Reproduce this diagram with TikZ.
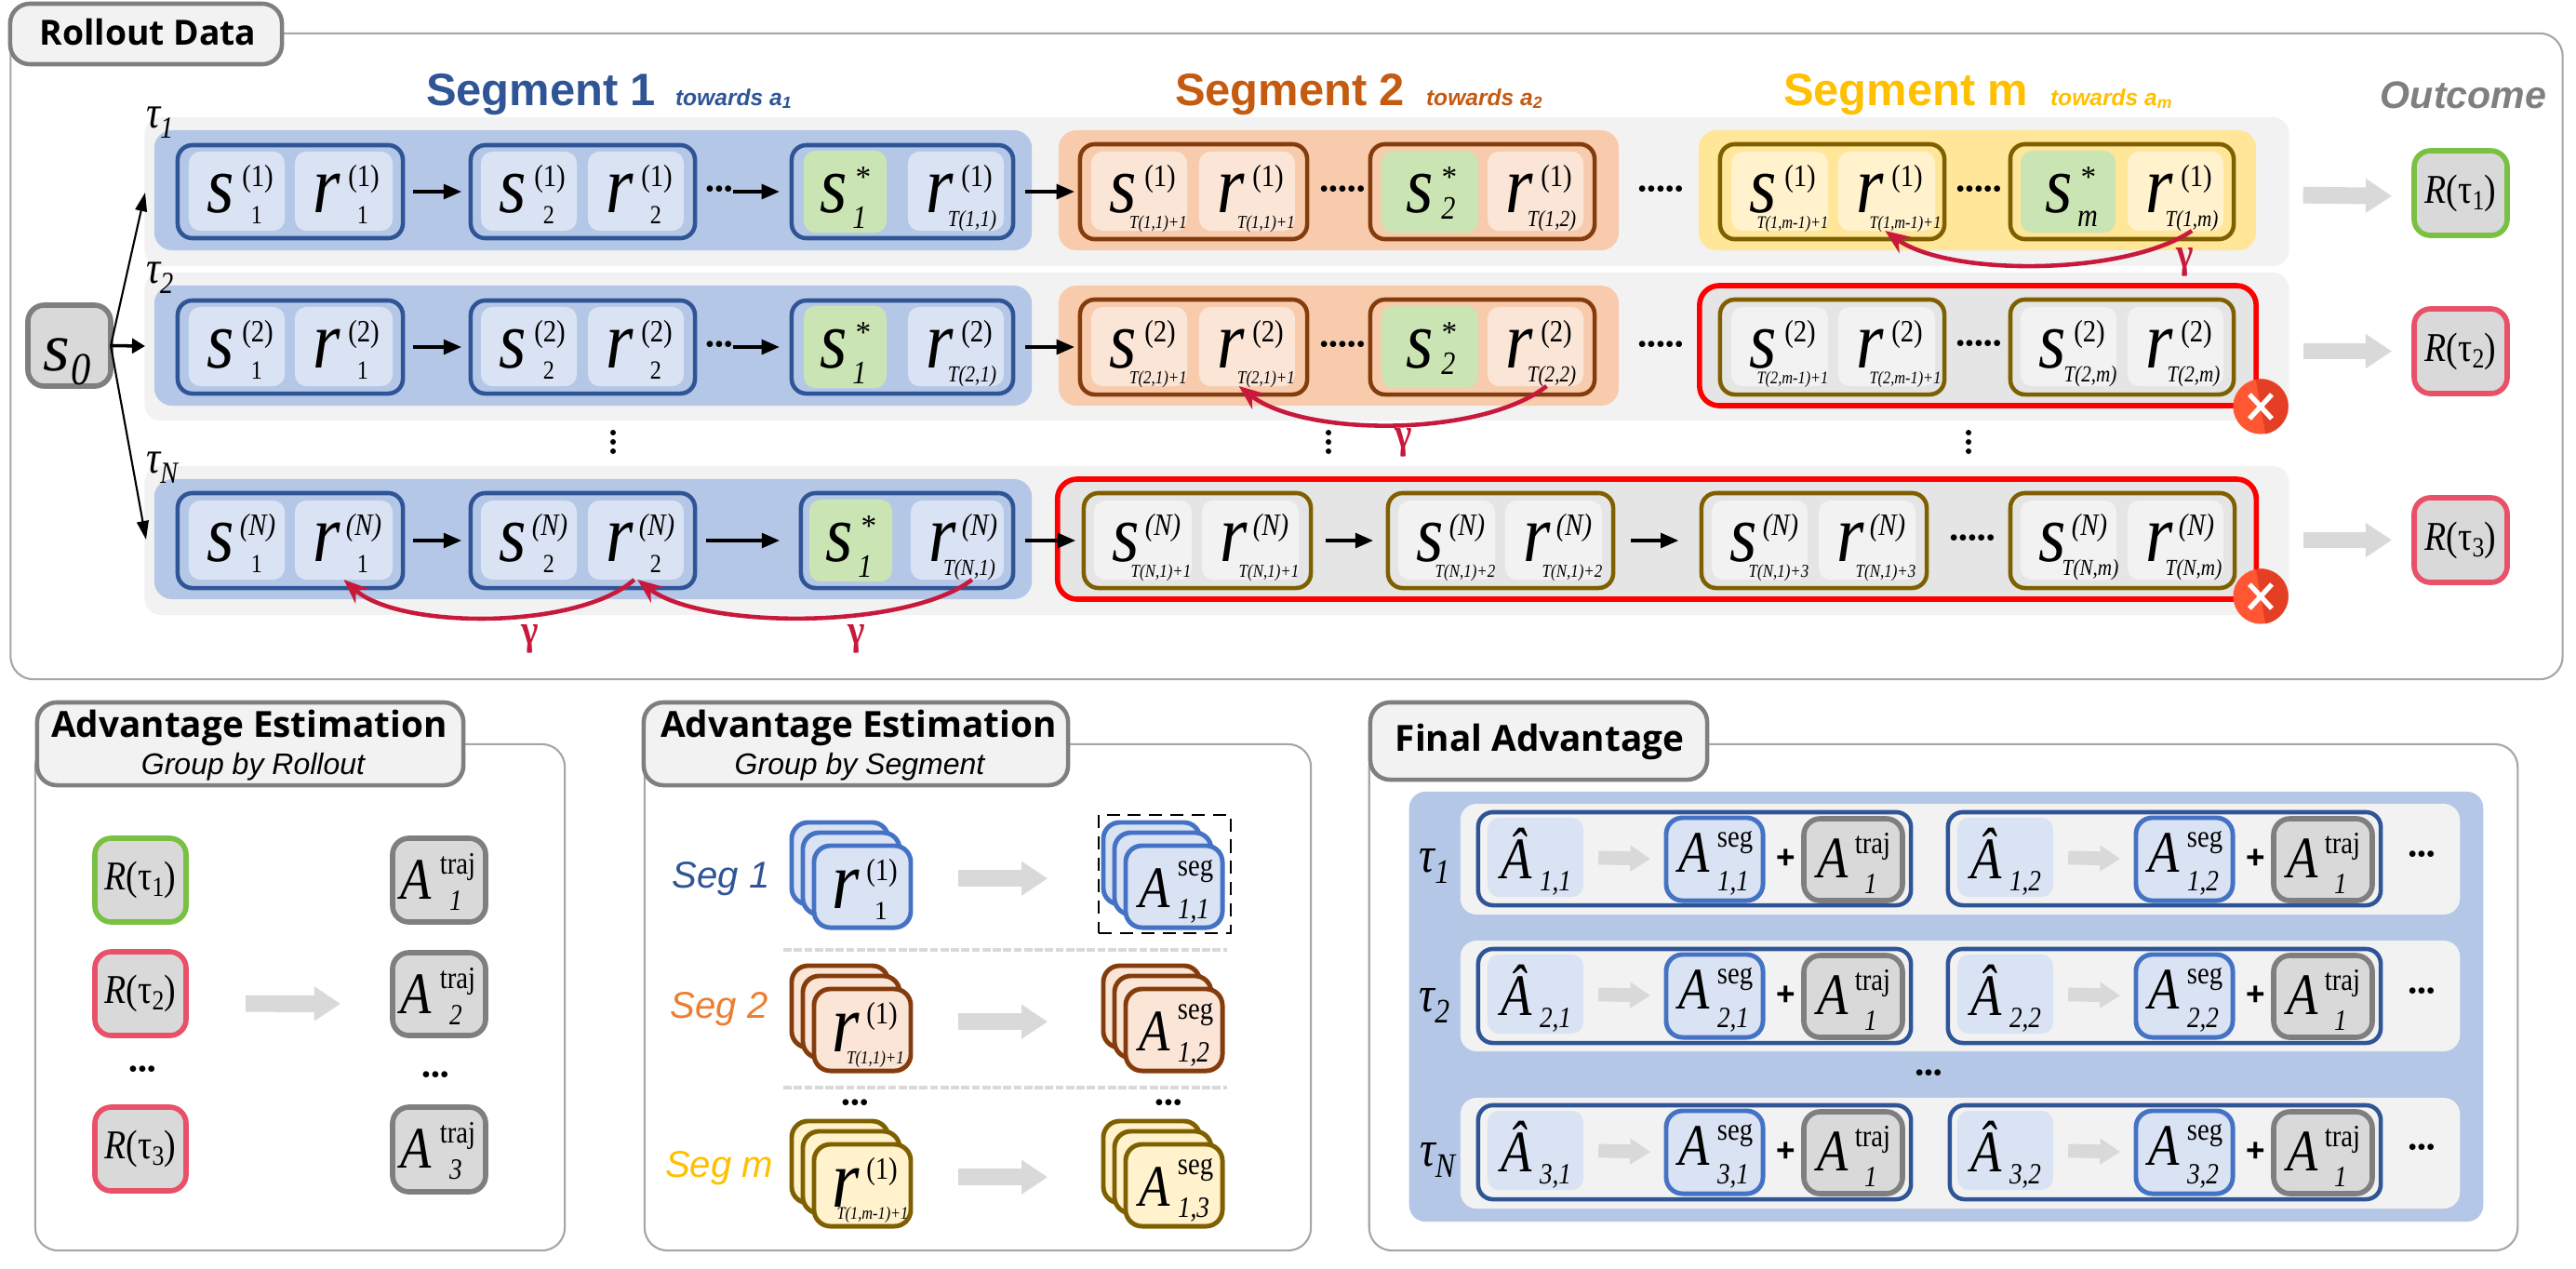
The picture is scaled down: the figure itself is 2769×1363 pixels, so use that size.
\documentclass[tikz,border=0pt]{standalone}
\usepackage{graphicx}
\usepackage{fontspec}
\setmainfont{Liberation Serif}
\setsansfont{Liberation Sans}
\newfontfamily\hdfont{Open Sans}
\usetikzlibrary{arrows.meta}
\definecolor{cBand}{HTML}{F2F2F2}
\definecolor{cBlueBg}{HTML}{B4C7E7}
\definecolor{cOrgBg}{HTML}{F8CBAD}
\definecolor{cYelBg}{HTML}{FFE699}
\definecolor{cBlueTl}{HTML}{DAE3F3}
\definecolor{cOrgTl}{HTML}{FBE5D6}
\definecolor{cYelTl}{HTML}{FFF2CC}
\definecolor{cGreen}{HTML}{CAE5B3}
\definecolor{cDBlue}{HTML}{2F5597}
\definecolor{cMBlue}{HTML}{4472C4}
\definecolor{cBrown}{HTML}{843C0C}
\definecolor{cOlive}{HTML}{7F6000}
\definecolor{cOrg}{HTML}{C55A11}
\definecolor{cOrgL}{HTML}{ED7D31}
\definecolor{cGold}{HTML}{FFC000}
\definecolor{cGrey}{HTML}{7F7F7F}
\definecolor{cFill}{HTML}{D9D9D9}
\definecolor{cGam}{HTML}{C8193C}
\definecolor{cRG}{HTML}{7AC043}
\definecolor{cRR}{HTML}{E85168}
\newcommand\nr[1]{\scalebox{.86}[1]{#1}}
\tikzset{
 x=0.01cm,y=-0.01cm,
 every node/.style={inner sep=0pt,outer sep=0pt},
 band/.style={fill=cBand,rounded corners=5pt},
 bgB/.style={fill=cBlueBg,rounded corners=5.5pt},
 bgO/.style={fill=cOrgBg,rounded corners=5.5pt},
 bgY/.style={fill=cYelBg,rounded corners=5.5pt},
 redbox/.style={draw=red,fill=black!10,line width=1.6pt,rounded corners=6pt},
 boxB/.style={draw=cDBlue,line width=1.3pt,rounded corners=4.5pt},
 boxO/.style={draw=cBrown,line width=1.3pt,rounded corners=4.5pt},
 boxY/.style={draw=cOlive,line width=1.3pt,rounded corners=4.5pt},
 tlB/.style={fill=cBlueTl,rounded corners=3.5pt},
 tlO/.style={fill=cOrgTl,rounded corners=3.5pt},
 tlY/.style={fill=cYelTl,rounded corners=3.5pt},
 tlG/.style={fill=cBand,rounded corners=3.5pt},
 tlS/.style={fill=cGreen,rounded corners=3.5pt},
 lett/.style={anchor=base west,font=\fontsize{25pt}{26pt}\selectfont\itshape},
 supn/.style={anchor=base,font=\fontsize{9.5pt}{10pt}\selectfont},
 frame/.style={draw=black!35,line width=0.6pt,rounded corners=7pt},
 title/.style={draw=cGrey,fill=cBand,line width=1.3pt,rounded corners=6pt},
 rbx/.style={fill=cFill,line width=1.6pt,rounded corners=5pt},
 rG/.style={rbx,draw=cRG},
 rR/.style={rbx,draw=cRR},
 aT/.style={rbx,draw=cGrey},
 aS/.style={fill=cBlueTl,draw=cMBlue,line width=1.4pt,rounded corners=5pt},
 stB/.style={fill=cBlueTl,draw=cMBlue,line width=1.4pt,rounded corners=5pt},
 stO/.style={fill=cOrgTl,draw=cBrown,line width=1.4pt,rounded corners=5pt},
 stY/.style={fill=cYelTl,draw=cOlive,line width=1.4pt,rounded corners=5pt},
 blk/.style={draw=black,line width=1pt,-{Triangle[length=5.5pt,width=4.5pt]}},
 thin arrow/.style={draw=black,line width=0.6pt,-{Triangle[length=5.7pt,width=3.6pt]}},
 garrow/.style={draw=cFill,line width=5.1pt,-{Triangle[length=8pt,width=10pt]}},
 sgarrow/.style={draw=cFill,line width=4.2pt,-{Triangle[length=6.2pt,width=7.6pt]}},
 gam/.style={draw=cGam,line width=1.3pt,-{Stealth[length=7.5pt,width=6pt]}},
 gaml/.style={text=cGam,font=\fontsize{13pt}{13pt}\selectfont\bfseries},
 dotsn/.style={font=\fontsize{8pt}{8pt}\selectfont},
 sym/.style={anchor=base west,font=\fontsize{18pt}{19pt}\selectfont\itshape},
 symu/.style={font=\fontsize{9.5pt}{10pt}\selectfont},
 symd/.style={font=\fontsize{9pt}{10pt}\selectfont\itshape},
 tauf/.style={anchor=base west,font=\fontsize{14pt}{14pt}\selectfont\itshape},
 tauF/.style={font=\fontsize{15.5pt}{16pt}\selectfont\itshape},
 Rtxt/.style={font=\fontsize{12.5pt}{13pt}\selectfont},
}
\newcommand\Bx[6]{\node[#2,minimum width={((#5)-(#3))*0.2845pt},minimum height={((#6)-(#4))*0.2845pt}] (#1) at ({((#3)+(#5))/2},{((#4)+(#6))/2}) {};}
\newcommand\kA{\def\subX{73}\def\subY{77}\def\subF{\fontsize{8pt}{8pt}\selectfont}}
\newcommand\kB{\def\subX{69}\def\subY{80}\def\subF{\fontsize{7pt}{7pt}\selectfont\itshape}}
\newcommand\kC{\def\subX{72}\def\subY{82}\def\subF{\fontsize{5.6pt}{6pt}\selectfont\itshape}}
\newcommand\kD{\def\subX{66}\def\subY{82}\def\subF{\fontsize{5.4pt}{6pt}\selectfont\itshape}}
% name style letter sup sub x0 x1 y0
\newcommand\Tl[8]{%
 \Bx{#1}{#2}{#6}{#8}{#7}{(#8)+85}
 \node[lett] (#1l) at ({(#6)+19},{(#8)+65}) {\nr{#3}};
 \node[supn] (#1u) at ({(#6)+74},{(#8)+37}) {\nr{#4}};
 \node[anchor=base] (#1d) at ({(#6)+\subX},{(#8)+\subY}) {\subF\nr{#5}};
}
% name sub off x0 x1 y0 subbaseline
\newcommand\St[7]{%
 \Bx{#1}{tlS}{#4}{(#6)-1}{#5}{(#6)+87}
 \node[lett] (#1l) at ({(#4)+17+#3},{(#6)+65}) {\nr{s}};
 \node[supn] (#1u) at ({(#4)+64+#3},{(#6)+38}) {*};
 \node[anchor=base,font=\fontsize{10pt}{10pt}\selectfont\itshape] (#1d) at ({(#4)+60+#3+#3/3},{(#6)+#7}) {\nr{#2}};
}
% id sup dy Ti
\newcommand\SegOne[4]{%
 \Bx{#1bg}{bgB}{166}{140+#3}{1109}{269+#3}
 \Bx{#1a}{boxB}{191}{156+#3}{433}{256+#3}
 \Bx{#1b}{boxB}{506}{156+#3}{747}{256+#3}
 \Bx{#1c}{boxB}{851}{156+#3}{1089}{256+#3}
 \kA
 \Tl{#1s1}{tlB}{s}{#2}{1}{203}{306}{163+#3}
 \Tl{#1r1}{tlB}{r}{#2}{1}{317}{422}{163+#3}
 \Tl{#1s2}{tlB}{s}{#2}{2}{517}{620}{163+#3}
 \Tl{#1r2}{tlB}{r}{#2}{2}{632}{735}{163+#3}
 \St{#1s3}{1}{0}{864}{953}{163+#3}{82}
 \kB\Tl{#1r3}{tlB}{r}{#2}{T(#4,1)}{976}{1079}{163+#3}
 \draw[blk,shorten <=3pt,shorten >=2.8pt] (#1a.east) -- (#1b.west);
 \node[dotsn] (#1dt) at (773,{206+#3}) {•••};
 \draw[blk,shorten >=3.7pt] (#1dt.east) -- (#1c.west |- #1dt.east);
}
% id sup dy i
\newcommand\SegTwo[4]{%
 \Bx{#1obg}{bgO}{1138}{140+#3}{1740}{269+#3}
 \Bx{#1oa}{boxO}{1161}{155+#3}{1405}{257+#3}
 \Bx{#1ob}{boxO}{1473}{155+#3}{1714}{257+#3}
 \kC
 \Tl{#1os}{tlO}{s}{#2}{T(#4,1)+1}{1173}{1276}{163+#3}
 \Tl{#1or}{tlO}{r}{#2}{T(#4,1)+1}{1289}{1392}{163+#3}
 \St{#1os2}{2}{9}{1485}{1589}{163+#3}{72}
 \kB\Tl{#1or2}{tlO}{r}{#2}{T(#4,2)}{1599}{1702}{163+#3}
 \draw[blk,shorten <=3.7pt,shorten >=1.7pt] (#1c.east) -- (#1oa.west);
 \node[dotsn] (#1od) at (1443,{206+#3}) {•••••};
 \node[dotsn] (#1oe) at (1785,{206+#3}) {•••••};
}
\newcommand\Stk[4]{%
 \Bx{#1k}{#2}{#3}{#4}{(#3)+104}{(#4)+88}
 \Bx{#1m}{#2}{(#3)+12}{(#4)+11}{(#3)+116}{(#4)+99}
 \Bx{#1f}{#2}{(#3)+24}{(#4)+25}{(#3)+128}{(#4)+113}
}
% name sup sub x y ax ay sx sy
\newcommand\Asym[9]{%
 \node[sym] (#1a) at ({(#4)+(#6)},{(#5)+(#7)}) {\nr{A}};
 \node[symu] (#1u) at ({(#4)+(#8)},{(#5)+(#9)}) {\nr{#2}};
 \node[symd] (#1d) at ({(#4)+(#8)-2},{(#5)+70}) {\nr{#3}};
}
\newcommand\Rtau[1]{\nr{{\itshape R}(τ\raisebox{-2pt}{\fontsize{8.5pt}{9pt}\selectfont #1})}}
\newcommand\Bad[3]{%
 \node[circle,fill=red!65!orange!80!white,minimum size=16.8pt] (#1) at (#2,#3) {};
 \fill[red!75!black!85!orange!90!white,opacity=.55] ([shift={(#2,#3)}]80:30) arc[start angle=80,end angle=-100,radius=30];
 \draw[white,line width=1.5pt] ({#2-12},{#3-13}) -- ({#2+12},{#3+13}) ({#2-12},{#3+13}) -- ({#2+12},{#3-13});
}
% cell: id  label  dx dy
\newcommand\FCell[4]{%
 \Bx{#1t}{tlB}{1599+#3}{879+#4}{1702+#3}{964+#4}
 \node[sym] (#1h) at ({1613+#3},{944+#4}) {\nr{Â}};
 \node[symd] (#1hd) at ({1672+#3},{949+#4}) {\nr{#2}};
 \Bx{#1s}{aS}{1791+#3}{879+#4}{1895+#3}{968+#4}
 \Asym{#1as}{seg}{#2}{1791+#3}{879+#4}{13}{58}{74}{27}
 \node[font=\fontsize{10pt}{10pt}\selectfont\bfseries\sffamily] (#1p) at ({1920+#3},{923+#4}) {+};
 \Bx{#1j}{aT}{1939+#3}{880+#4}{2045+#3}{968+#4}
 \Asym{#1at}{traj}{1}{1939+#3}{880+#4}{14}{63}{74}{30}
 \draw[sgarrow,shorten <=4.6pt,shorten >=4.8pt] (#1t.east) -- (#1s.west);
 \node[dotsn] (#1dd) at ({2603-505+#3+505},{921+#4}) {•••};
}
\begin{document}
\begin{tikzpicture}
\useasboundingbox (0,0) rectangle (2769,1363);
\fill[white] (0,0) rectangle (2769,1363);
% ---------- Rollout frame
\Bx{rollF}{frame}{12}{36}{2754}{730}
\Bx{rollT}{title}{11}{4}{303}{69}
\node[font=\fontsize{10.6pt}{12pt}\selectfont\hdfont\bfseries] (rollL) at (159,35) {Rollout Data};
% headings
\node[anchor=base west,text=cDBlue,font=\fontsize{13.9pt}{14pt}\selectfont\sffamily\bfseries] (h1) at (458,113) {Segment 1};
\node[anchor=base west,text=cDBlue,font=\fontsize{7pt}{8pt}\selectfont\sffamily\bfseries\itshape] (h1b) at (726,113) {towards a\raisebox{-1pt}{\fontsize{5pt}{5pt}\selectfont 1}};
\node[anchor=base west,text=cOrg,font=\fontsize{13.9pt}{14pt}\selectfont\sffamily\bfseries] (h2) at (1263,113) {Segment 2};
\node[anchor=base west,text=cOrg,font=\fontsize{7pt}{8pt}\selectfont\sffamily\bfseries\itshape] (h2b) at (1533,113) {towards a\raisebox{-1pt}{\fontsize{5pt}{5pt}\selectfont 2}};
\node[anchor=base west,text=cGold,font=\fontsize{13.9pt}{14pt}\selectfont\sffamily\bfseries] (h3) at (1917,113) {Segment m};
\node[anchor=base west,text=cGold,font=\fontsize{7pt}{8pt}\selectfont\sffamily\bfseries\itshape] (h3b) at (2204,113) {towards a\raisebox{-1pt}{\fontsize{5pt}{5pt}\selectfont m}};
\node[text=cGrey,font=\fontsize{11.7pt}{12pt}\selectfont\sffamily\bfseries\itshape] (h4) at (2648,102) {Outcome};
% bands
\Bx{band1}{band}{156}{126}{2460}{286}
\Bx{band2}{band}{156}{293}{2460}{452}
\Bx{band3}{band}{156}{501}{2460}{661}
% s0
\Bx{s0}{aT}{30}{328}{119}{415}
\node[anchor=base west,font=\fontsize{21pt}{22pt}\selectfont\itshape] (s0l) at (46,398) {s};
\node[anchor=base west,font=\fontsize{14pt}{15pt}\selectfont\itshape] (s0d) at (77,413) {\nr{0}};
\coordinate (c1) at (156,207);
\coordinate (c2) at (156,372);
\coordinate (c3) at (157,580);
\draw[thin arrow] (s0.east) -- (c1);
\draw[thin arrow,line width=1pt,-{Triangle[length=4pt,width=4.5pt]}] (s0.east) -- (c2);
\draw[thin arrow] (s0.east) -- (c3);
% Row 1
\SegOne{A}{(1)}{0}{1}
\SegTwo{A}{(1)}{0}{1}
\Bx{Aybg}{bgY}{1826}{140}{2425}{269}
\Bx{Aya}{boxY}{1849}{155}{2090}{257}
\Bx{Ayb}{boxY}{2161}{155}{2401}{257}
\kD
\Tl{Ays}{tlY}{s}{(1)}{T(1,m-1)+1}{1861}{1965}{163}
\def\subX{72}
\Tl{Ayr}{tlY}{r}{(1)}{T(1,m-1)+1}{1976}{2080}{163}
\St{Ays2}{m}{9}{2172}{2274}{163}{80}
\kB\Tl{Ayr2}{tlY}{r}{(1)}{T(1,m)}{2287}{2390}{163}
\node[dotsn] (Ayd) at (2127,206) {•••••};
% Row 2
\SegOne{B}{(2)}{167}{2}
\SegTwo{B}{(2)}{167}{2}
\Bx{Bred}{redbox}{1827}{307}{2425}{436}
\Bx{Bya}{boxY}{1849}{322}{2090}{424}
\Bx{Byb}{boxY}{2161}{322}{2401}{424}
\kD
\Tl{Bys}{tlG}{s}{(2)}{T(2,m-1)+1}{1861}{1965}{330}
\def\subX{72}
\Tl{Byr}{tlG}{r}{(2)}{T(2,m-1)+1}{1976}{2080}{330}
\kB\def\subX{75}
\Tl{Bys2}{tlG}{s}{(2)}{T(2,m)}{2172}{2275}{330}
\def\subX{71}
\Tl{Byr2}{tlG}{r}{(2)}{T(2,m)}{2287}{2390}{330}
\node[dotsn] (Byd) at (2127,372) {•••••};
\Bad{BX}{2430}{437}
% Row N
\Bx{Cbg}{bgB}{166}{515}{1109}{644}
\Bx{Ca}{boxB}{191}{530}{433}{632}
\Bx{Cb}{boxB}{506}{530}{747}{632}
\Bx{Cc}{boxB}{861}{530}{1089}{632}
\kA
\Tl{Cs1}{tlB}{s}{\itshape(N)}{1}{203}{306}{538}
\Tl{Cr1}{tlB}{r}{\itshape(N)}{1}{317}{422}{538}
\Tl{Cs2}{tlB}{s}{\itshape(N)}{2}{517}{620}{538}
\Tl{Cr2}{tlB}{r}{\itshape(N)}{2}{632}{735}{538}
\St{Cs3}{1}{0}{870}{959}{538}{82}
\kB\def\subX{63}\Tl{Cr3}{tlB}{r}{\itshape(N)}{T(N,1)}{979}{1079}{538}
\draw[blk,shorten <=3pt,shorten >=2.8pt] (Ca.east) -- (Cb.west);
\draw[blk,shorten <=3.3pt,shorten >=6.5pt] (Cb.east) -- (Cc.west);
\Bx{Cred}{redbox}{1137}{515}{2425}{644}
\Bx{Cya}{boxY}{1165}{530}{1409}{632}
\Bx{Cyb}{boxY}{1492}{530}{1734}{632}
\Bx{Cyc}{boxY}{1829}{530}{2071}{632}
\Bx{Cyd}{boxY}{2161}{530}{2402}{632}
\kC
\Tl{Cy1}{tlG}{s}{\itshape(N)}{T(N,1)+1}{1176}{1281}{538}
\Tl{Cy2}{tlG}{r}{\itshape(N)}{T(N,1)+1}{1292}{1396}{538}
\Tl{Cy3}{tlG}{s}{\itshape(N)}{T(N,1)+2}{1503}{1607}{538}
\Tl{Cy4}{tlG}{r}{\itshape(N)}{T(N,1)+2}{1618}{1722}{538}
\Tl{Cy5}{tlG}{s}{\itshape(N)}{T(N,1)+3}{1840}{1943}{538}
\Tl{Cy6}{tlG}{r}{\itshape(N)}{T(N,1)+3}{1955}{2059}{538}
\kB\def\subX{75}
\Tl{Cy7}{tlG}{s}{\itshape(N)}{T(N,m)}{2172}{2275}{538}
\def\subX{71}
\Tl{Cy8}{tlG}{r}{\itshape(N)}{T(N,m)}{2287}{2390}{538}
\draw[blk,shorten <=3.7pt,shorten >=2.5pt] (Cc.east) -- (Cya.west);
\draw[blk,shorten <=4.5pt,shorten >=4.5pt] (Cya.east) -- (Cyb.west);
\draw[blk,shorten <=5.5pt,shorten >=7pt] (Cyb.east) -- (Cyc.west);
\node[dotsn] (Cyt) at (2120,581) {•••••};
\Bad{CX}{2430}{641}
% taus
\node[tauf] (t1) at (157,137) {\nr{τ}\raisebox{-3.4pt}{\fontsize{9.4pt}{10pt}\selectfont\nr{1}}};
\node[tauf] (t2) at (157,304) {\nr{τ}\raisebox{-3.4pt}{\fontsize{9.4pt}{10pt}\selectfont\nr{2}}};
\node[tauf] (t3) at (157,508) {\nr{τ}\raisebox{-3.4pt}{\fontsize{9.4pt}{10pt}\selectfont\nr{N}}};
% vertical dots
\foreach \n/\vx in {a/659,b/1428,c/2116}{
 \foreach \m/\vy in {1/465,2/475,3/485}{
  \fill[black] (\vx,\vy) circle[radius=3];
 }
}
% gamma curves
\draw[gam] ([xshift=5pt]Ayr2.south) .. controls +(-70,48) and +(70,50) .. ([xshift=-.5pt]Ayr.south);
\node[gaml] (g1) at (2349,282) {\nr{γ}};
\draw[gam] ([xshift=3.4pt]Bor2.south) .. controls +(-70,55) and +(70,55) .. ([xshift=-2.5pt]Bor.south);
\node[gaml] (g2) at (1509,476) {\nr{γ}};
\draw[gam] ([xshift=-.5pt]Cr2.south) .. controls +(-60,54) and +(60,54) .. (Cr1.south);
\draw[gam] ([xshift=4.5pt]Cr3.south) .. controls +(-70,54) and +(70,54) .. ([xshift=.5pt]Cr2.south);
\node[gaml] (g3) at (570,687) {\nr{γ}};
\node[gaml] (g4) at (921,687) {\nr{γ}};
% outcomes
\Bx{R1}{rG}{2595}{162}{2695}{253}
\Bx{R2}{rR}{2595}{332}{2695}{423}
\Bx{R3}{rR}{2595}{535}{2695}{626}
\node[Rtxt] (R1t) at (R1) {\Rtau{1}};
\node[Rtxt] (R2t) at (R2) {\Rtau{2}};
\node[Rtxt] (R3t) at (R3) {\Rtau{3}};
\draw[garrow,shorten <=4.3pt,shorten >=6.8pt] ([yshift=-1pt]band1.east) -- ([yshift=-1pt]R1.west);
\draw[garrow,shorten <=4.3pt,shorten >=6.8pt] (band2.east |- R2.west) -- (R2.west);
\draw[garrow,shorten <=4.3pt,shorten >=6.8pt] (band3.east |- R3.west) -- (R3.west);
% ---------- Panel 1
\Bx{p1F}{frame}{38}{800}{607}{1344}
\Bx{p1T}{title}{40}{755}{498}{844}
\node[font=\fontsize{11pt}{12pt}\selectfont\hdfont\bfseries] (p1L) at (268,782) {Advantage Estimation};
\node[font=\fontsize{9.1pt}{10pt}\selectfont\itshape\sffamily] (p1S) at (272,824) {Group by Rollout};
\Bx{pR1}{rG}{102}{901}{200}{991}
\Bx{pR2}{rR}{102}{1023}{200}{1113}
\Bx{pR3}{rR}{102}{1190}{200}{1280}
\node[Rtxt] (pR1t) at (pR1) {\Rtau{1}};
\node[Rtxt] (pR2t) at (pR2) {\Rtau{2}};
\node[Rtxt] (pR3t) at (pR3) {\Rtau{3}};
\Bx{pA1}{aT}{422}{901}{522}{991}
\Bx{pA2}{aT}{422}{1024}{522}{1113}
\Bx{pA3}{aT}{422}{1190}{522}{1281}
\Asym{pA1s}{traj}{1}{419}{898}{11}{68}{73}{34}
\Asym{pA2s}{traj}{2}{419}{1021}{11}{68}{73}{34}
\Asym{pA3s}{traj}{3}{419}{1187}{11}{68}{73}{34}
\node[dotsn] (pd1) at (153,1152) {•••};
\node[dotsn] (pd2) at (468,1158) {•••};
\draw[garrow,shorten <=18.2pt,shorten >=15.9pt] ([yshift=-3pt]pR2.east) -- ([yshift=-3pt]pA2.west);
% ---------- Panel 2
\Bx{p2F}{frame}{693}{800}{1409}{1344}
\Bx{p2T}{title}{692}{755}{1148}{844}
\node[font=\fontsize{11pt}{12pt}\selectfont\hdfont\bfseries] (p2L) at (923,782) {Advantage Estimation};
\node[font=\fontsize{9.1pt}{10pt}\selectfont\itshape\sffamily] (p2S) at (924,824) {Group by Segment};
\node[text=cDBlue,font=\fontsize{11.4pt}{12pt}\selectfont\itshape\sffamily] (sg1) at (775,945) {Seg 1};
\node[text=cOrgL,font=\fontsize{11.4pt}{12pt}\selectfont\itshape\sffamily] (sg2) at (773,1085) {Seg 2};
\node[text=cGold,font=\fontsize{11.4pt}{12pt}\selectfont\itshape\sffamily] (sg3) at (773,1256) {Seg m};
\Stk{L1}{stB}{851}{884}
\Stk{L2}{stO}{851}{1038}
\Stk{L3}{stY}{851}{1205}
\Stk{M1}{stB}{1186}{884}
\Stk{M2}{stO}{1186}{1038}
\Stk{M3}{stY}{1186}{1205}
\node[lett] (L1r) at (894,976) {\nr{r}};
\node[supn] (L1u) at (948,946) {\nr{(1)}};
\node[anchor=base,font=\fontsize{8pt}{8pt}\selectfont] (L1d) at (947,988) {1};
\node[lett] (L2r) at (894,1130) {\nr{r}};
\node[supn] (L2u) at (948,1100) {\nr{(1)}};
\node[anchor=base,font=\fontsize{5.6pt}{6pt}\selectfont\itshape] (L2d) at (941,1143) {\nr{T(1,1)+1}};
\node[lett] (L3r) at (894,1297) {\nr{r}};
\node[supn] (L3u) at (948,1267) {\nr{(1)}};
\node[anchor=base,font=\fontsize{5.4pt}{6pt}\selectfont\itshape] (L3d) at (938,1310) {\nr{T(1,m-1)+1}};
\Asym{M1s}{seg}{1,1}{1210}{909}{14}{66}{75}{28}
\Asym{M2s}{seg}{1,2}{1210}{1063}{14}{66}{75}{28}
\Asym{M3s}{seg}{1,3}{1210}{1230}{14}{66}{75}{28}
\Bx{dash}{draw=black,line width=0.8pt,dash pattern=on 4pt off 2.5pt}{1181}{876}{1323}{1003}
\draw[cFill,line width=.9pt,dash pattern=on 2.5pt off .7pt] (842,1021) -- (1319,1021);
\draw[cFill,line width=.9pt,dash pattern=on 2.5pt off .7pt] (842,1169) -- (1319,1169);
\node[dotsn] (qd1) at (919,1188) {•••};
\node[dotsn] (qd2) at (1256,1188) {•••};
\draw[garrow,shorten <=14.5pt,shorten >=17pt] ([yshift=2.5pt]L1f.east) -- ([yshift=2.5pt]M1k.west |- L1f.east);
\draw[garrow,shorten <=14.5pt,shorten >=17pt] ([yshift=2.5pt]L2f.east) -- ([yshift=2.5pt]M2k.west |- L2f.east);
\draw[garrow,shorten <=14.5pt,shorten >=17pt] ([yshift=2.5pt]L3f.east) -- ([yshift=2.5pt]M3k.west |- L3f.east);
% ---------- Panel 3
\Bx{p3F}{frame}{1472}{800}{2706}{1344}
\Bx{p3T}{title}{1473}{755}{1835}{838}
\node[font=\fontsize{11pt}{12pt}\selectfont\hdfont\bfseries] (p3L) at (1655,797) {Final Advantage};
\Bx{fbg}{fill=cBlueBg,rounded corners=5pt}{1515}{851}{2669}{1313}
\Bx{fb1}{band}{1570}{864}{2644}{983}
\Bx{fb2}{band}{1570}{1011}{2644}{1130}
\Bx{fb3}{band}{1570}{1180}{2644}{1299}
\Bx{f1a}{boxB}{1589}{873}{2054}{973}
\Bx{f1b}{boxB}{2094}{873}{2559}{973}
\Bx{f2a}{boxB}{1589}{1020}{2054}{1121}
\Bx{f2b}{boxB}{2094}{1020}{2559}{1121}
\Bx{f3a}{boxB}{1589}{1188}{2054}{1289}
\Bx{f3b}{boxB}{2096}{1188}{2559}{1289}
\FCell{e11}{1,1}{0}{0}
\FCell{e12}{1,2}{505}{0}
\FCell{e21}{2,1}{0}{147}
\FCell{e22}{2,2}{505}{147}
\FCell{e31}{3,1}{0}{315}
\FCell{e32}{3,2}{505}{315}
\node[dotsn] (fdc) at (2073,1156) {•••};
\node[tauF] (ft1) at (1542,931) {\nr{τ}\raisebox{-3.4pt}{\fontsize{10.5pt}{10pt}\selectfont\nr{1}}};
\node[tauF] (ft2) at (1542,1081) {\nr{τ}\raisebox{-3.4pt}{\fontsize{10.5pt}{10pt}\selectfont\nr{2}}};
\node[tauF] (ft3) at (1545,1247) {\nr{τ}\raisebox{-3.4pt}{\fontsize{10.5pt}{10pt}\selectfont\nr{N}}};
\end{tikzpicture}
\end{document}
